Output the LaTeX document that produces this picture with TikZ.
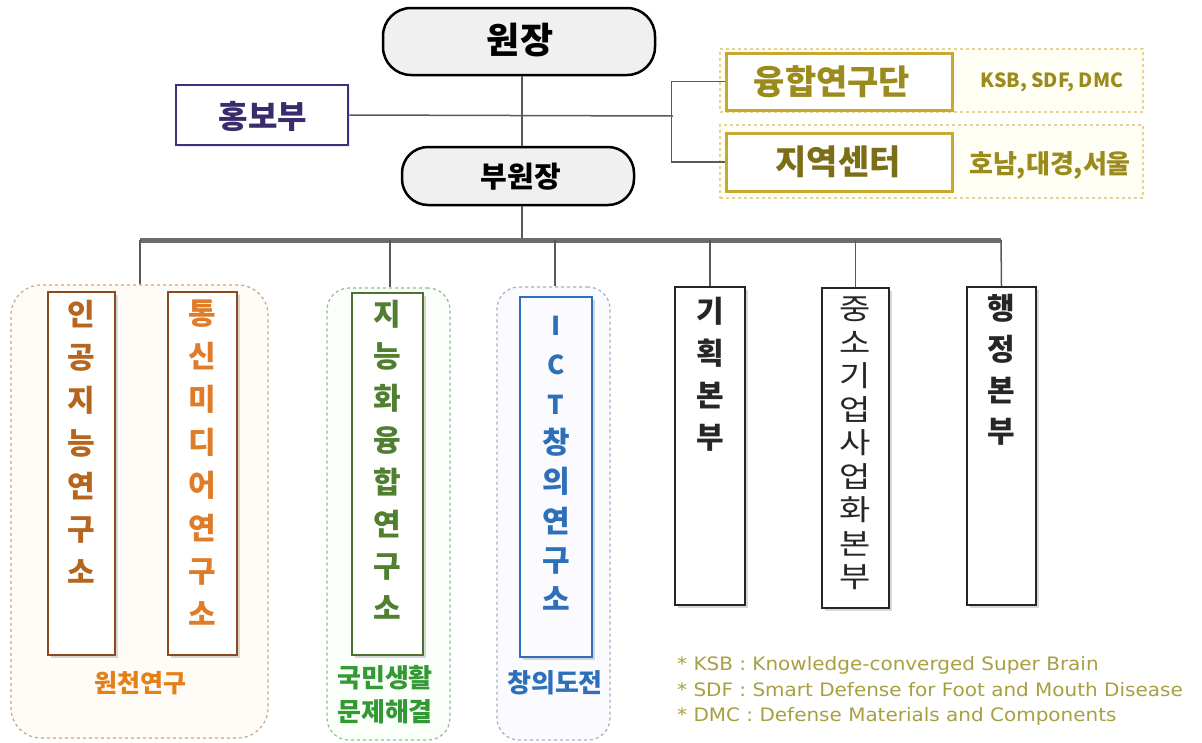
\documentclass[tikz,border=0pt]{standalone}
\usepackage{fontspec}
\setmainfont{Noto Sans CJK KR}
\newfontfamily\dv[FakeStretch=1.08]{DejaVu Sans}
\usetikzlibrary{shadows}
\definecolor{brownA}{HTML}{8B4A20}
\definecolor{txtA}{HTML}{B5651D}
\definecolor{txtB}{HTML}{E07B28}
\definecolor{grnA}{HTML}{4E7030}
\definecolor{grnT}{HTML}{4F7F2F}
\definecolor{bluA}{HTML}{2E70B8}
\definecolor{gold}{HTML}{C8A830}
\definecolor{goldT}{HTML}{9B8A1C}
\definecolor{purp}{HTML}{3C2F80}
\definecolor{purpT}{HTML}{3A2C6C}
\definecolor{foot}{HTML}{A8A040}
\newcommand\fs[2]{\fontsize{#1}{#2}\selectfont}
\newcommand\sq[1]{\scalebox{1}[0.85]{#1}}
\newcommand\lt[1]{{\fs{26}{39.3}#1}}
\tikzset{
  pill/.style={draw=black, line width=2.5pt, fill=gray!12, rounded corners=28pt, inner sep=0pt},
  vbox/.style={draw, line width=2.5pt, fill=white, inner sep=0pt,
    drop shadow={shadow xshift=3pt, shadow yshift=-3pt, opacity=.3}},
  vtext/.style={anchor=north, inner sep=0pt, align=center, font=\bfseries\fs{30}{43}},
  grp/.style={draw, dashed, line width=1.2pt, rounded corners=22pt, inner sep=0pt},
  conn/.style={draw=gray!70!black, line width=1.5pt},
  gbox/.style={draw=gold, line width=3pt, fill=white, inner sep=0pt},
  outer/.style={draw=gold!50, dashed, line width=1.2pt, fill=yellow!4, inner sep=0pt}
}
\begin{document}
\begin{tikzpicture}[x=1pt,y=-1pt]
\useasboundingbox (0,0) rectangle (1202,742);
\fill[white] (0,0) rectangle (1202,742);

% top right dashed frames
\node[outer, minimum width=423pt, minimum height=63pt] (o1) at (931.5,80.5) {};
\node[outer, minimum width=423pt, minimum height=73pt] (o2) at (931.5,161.5) {};

% top nodes
\node[pill, minimum width=272pt, minimum height=67pt] (won) at (519,41.5) {};
\node[font=\bfseries\fs{36}{40}] (wonT) at (520,40) {원장};
\node[pill, minimum width=232pt, minimum height=58pt, rounded corners=26pt] (bu) at (518,176) {};
\node[font=\bfseries\fs{29}{32}] (buT) at (521,177) {부원장};

\node[draw=purp, line width=2.5pt, fill=white, minimum width=172pt, minimum height=60pt, inner sep=0pt,
  drop shadow={shadow xshift=2pt, shadow yshift=-2pt, opacity=.25, fill=purp!40}] (hong) at (262,115) {};
\node[font=\bfseries\fs{32}{36}, text=purpT] (hongT) at (263,116) {홍보부};

\node[gbox, minimum width=226pt, minimum height=57pt] (yung) at (839,81.5) {};
\node[font=\bfseries\fs{34}{38}, text=goldT] (yungT) at (832,82) {융합연구단};
\node[gbox, minimum width=226pt, minimum height=58pt] (jiy) at (839,162) {};
\node[font=\bfseries\fs{34}{38}, text=goldT!80!black] (jiyT) at (838,162) {지역센터};
\node[font=\bfseries\fs{19.5}{22}, text=goldT] (ksb) at (1052,82) {KSB, SDF, DMC};
\node[font=\bfseries\fs{26}{30}, text=goldT] (hon) at (1050,165) {호남,대경,서울};

% connectors top
\coordinate (br) at (673,116);
\coordinate (barC) at (522,240);
\draw[conn] (won.south -| barC) -- (bu.north -| barC);
\draw[conn] (hong.east) -- (br);
\draw[conn] (yung.west) -- ++(-53,0) |- (jiy.west);

% bar
\coordinate (barL) at (140,240);
\coordinate (barR) at (1001,240);
\draw[conn] (bu.south -| barC) -- (barC);
\draw[draw=gray!85!black, line width=5pt] (barL) -- (barR);

% groups
\node[grp, draw=orange!45!gray!70, fill=orange!3, minimum width=257pt, minimum height=453pt, rounded corners=30pt] (g1) at (139.5,511.5) {};
\node[grp, draw=green!25!gray!70, fill=green!2, minimum width=123pt, minimum height=452pt] (g2) at (388.5,514) {};
\node[grp, draw=bluA!35!gray!60, fill=blue!2, minimum width=113pt, minimum height=453pt] (g3) at (553.5,513.5) {};

% vertical boxes
\node[vbox, draw=brownA, minimum width=67pt, minimum height=363pt] (ai) at (81.5,473.5) {};
\node[vtext, text=txtA] at (81.5,300) {인\\공\\지\\능\\연\\구\\소};
\node[vbox, draw=brownA, minimum width=69pt, minimum height=363pt] (tm) at (202.5,473.5) {};
\node[vtext, text=txtB] at (202.5,300) {통\\신\\미\\디\\어\\연\\구\\소};
\node[vbox, draw=grnA, minimum width=71pt, minimum height=362pt] (jn) at (387.5,474) {};
\node[vtext, text=grnT, font=\bfseries\fs{30}{42}] at (387.5,300) {지\\능\\화\\융\\합\\연\\구\\소};
\node[vbox, draw=bluA, fill=blue!2, minimum width=72pt, minimum height=360pt] (ict) at (556,477) {};
\node[vtext, text=bluA, font=\bfseries\fs{30}{39.3}] at (556,316) {\lt{I}\\\lt{C}\\\lt{T}\\창\\의\\연\\구\\소};
\node[vbox, draw=gray!30!black, minimum width=70pt, minimum height=318pt] (gh) at (710,446) {};
\node[vtext, text=black!85, font=\bfseries\fs{30}{42}] at (710,297) {기\\획\\본\\부};
\node[vbox, draw=gray!30!black, minimum width=67pt, minimum height=320pt] (js) at (855.5,448) {};
\node[vtext, text=black!85, font=\fs{34}{33.5}] at (855.5,297) {\sq{중}\\\sq{소}\\\sq{기}\\\sq{업}\\\sq{사}\\\sq{업}\\\sq{화}\\\sq{본}\\\sq{부}};
\node[vbox, draw=gray!30!black, minimum width=69pt, minimum height=318pt] (hj) at (1001.5,446) {};
\node[vtext, text=black!85, font=\bfseries\fs{30}{41}] at (1001.5,294) {행\\정\\본\\부};

% drops
\draw[conn] (barL) -- (g1.north -| barL);
\draw[conn] (390,240) -- (g2.north -| 390,240);
\draw[conn] (555,240) -- (g3.north -| 555,240);
\draw[conn] (gh.north |- barL) -- (gh.north);
\draw[conn] (js.north |- barL) -- (js.north);
\draw[conn] (barR) -- (hj.north);

% group labels
\node[font=\bfseries\fs{25}{28}, text=orange!60!brown] (lab1) at (140,683) {원천연구};
\node[font=\bfseries\fs{26}{34}, text=green!50!black!80, align=center] (lab2) at (385,695) {국민생활\\문제해결};
\node[font=\bfseries\fs{26}{30}, text=bluA] (lab3) at (555,683) {창의도전};

% footnotes
\node[anchor=west, font=\dv\fs{18.5}{25.5}, text=foot, align=left, inner sep=0pt] (fn) at (677,691) {* KSB : Knowledge-converged Super Brain\\* SDF : Smart Defense for Foot and Mouth Disease\\* DMC : Defense Materials and Components};
\end{tikzpicture}
\end{document}
